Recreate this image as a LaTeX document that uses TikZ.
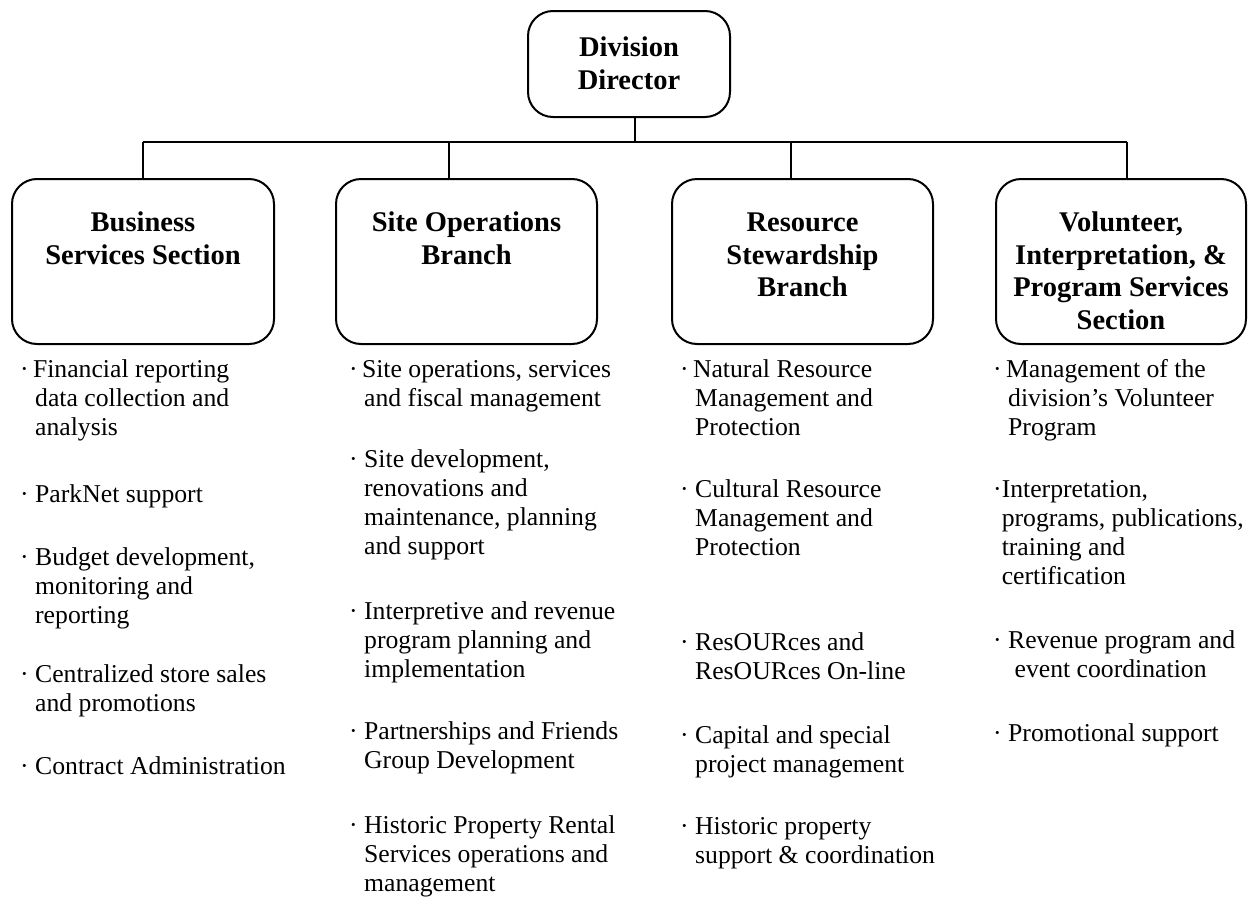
\documentclass[tikz,border=0pt]{standalone}
\usepackage{fontspec}
\setmainfont{Liberation Serif}
\usepackage{tikz}
\usetikzlibrary{positioning}
\tikzstyle{unit} = [rectangle, rounded corners=25pt, draw=black, line width=2pt, outer sep=0pt, inner xsep=2pt, inner ysep=30pt, anchor=north west, font=\fontsize{28.5}{32.5}\selectfont\bfseries]
\tikzstyle{duty} = [anchor=north west, yshift=20.3pt, align=left, inner sep=0pt, font=\fontsize{25.7}{29}\selectfont]
\tikzstyle{link} = [line width=2pt]
% title box: width, height, text
\newcommand{\unittext}[3]{\parbox[c][#2][t]{#1}{\centering\strut #3}}
\newcommand{\dt}{\strut·\ }
\newcommand{\dtt}{\strut·\,}
\newcommand{\pad}{\hphantom{·\ }}

\begin{document}
\begin{tikzpicture}[x=1pt, y=-1pt]
\useasboundingbox (0,0) rectangle (1248,897);

\node (director) [unit, inner ysep=23pt] at (528,11) {\unittext{198pt}{60pt}{Division\\Director}};

\node (business) [unit] at (12,179) {\unittext{258pt}{105pt}{Business\\Services Section}};
\node (siteops) [unit] at (336,179) {\unittext{257pt}{105pt}{Site Operations\\Branch}};
\node (resource) [unit] at (672,179) {\unittext{257pt}{105pt}{Resource\\Stewardship\\Branch}};
\node (volunteer) [unit] at (996,179) {\unittext{246pt}{105pt}{Volunteer,\\Interpretation, \&\\Program Services\\Section}};

% connectors
\coordinate (barL) at (143,142);
\coordinate (barR) at (1127,142);
\draw [link] (barL) -- (barR);
\draw [link] ([xshift=6pt]director.south) -- ([xshift=6pt]director.south |- barL);
\draw [link] (business.north) -- (business.north |- barL);
\draw [link] ([xshift=-17.5pt]siteops.north) -- ([xshift=-17.5pt]siteops.north |- barL);
\draw [link] ([xshift=-11.5pt]resource.north) -- ([xshift=-11.5pt]resource.north |- barL);
\draw [link] ([xshift=6pt]volunteer.north) -- ([xshift=6pt]volunteer.north |- barL);

% business services
\node (b1) [duty] at (20,377) {\dtt Financial reporting\\\pad data collection and\\\pad analysis};
\node (b2) [duty] at (20,502) {\dt ParkNet support};
\node (b3) [duty] at (20,565) {\dt Budget development,\\\pad monitoring and\\\pad reporting};
\node (b4) [duty] at (20,682) {\dt Centralized store sales\\\pad and promotions};
\node (b5) [duty] at (20,774) {\dt Contract Administration};

% site operations
\node (s1) [duty] at (349,377) {\dtt Site operations, services\\\pad and fiscal management};
\node (s2) [duty] at (349,467) {\dt Site development,\\\pad renovations and\\\pad maintenance, planning\\\pad and support};
\node (s3) [duty] at (349,619) {\dt Interpretive and revenue\\\pad program planning and\\\pad implementation};
\node (s4) [duty] at (349,739) {\dt Partnerships and Friends\\\pad Group Development};
\node (s5) [duty] at (349,833) {\dt Historic Property Rental\\\pad Services operations and\\\pad management};

% resource stewardship
\node (r1) [duty] at (680,377) {\dtt Natural Resource\\\pad Management and\\\pad Protection};
\node (r2) [duty] at (680,497) {\dt Cultural Resource\\\pad Management and\\\pad Protection};
\node (r3) [duty] at (680,650) {\dt ResOURces and\\\pad ResOURces On-line};
\node (r4) [duty] at (680,743) {\dt Capital and special\\\pad project management};
\node (r5) [duty] at (680,834) {\dt Historic property\\\pad support \& coordination};

% volunteer, interpretation and programs
\node (v1) [duty] at (993,377) {\dtt Management of the\\\pad division’s Volunteer\\\pad Program};
\node (v2) [duty] at (993,497) {\strut·Interpretation,\\\hphantom{·}programs, publications,\\\hphantom{·}training and\\\hphantom{·}certification};
\node (v3) [duty] at (993,648) {\dt Revenue program and\\\pad\ event coordination};
\node (v4) [duty] at (993,741) {\dt Promotional support};

\end{tikzpicture}
\end{document}
